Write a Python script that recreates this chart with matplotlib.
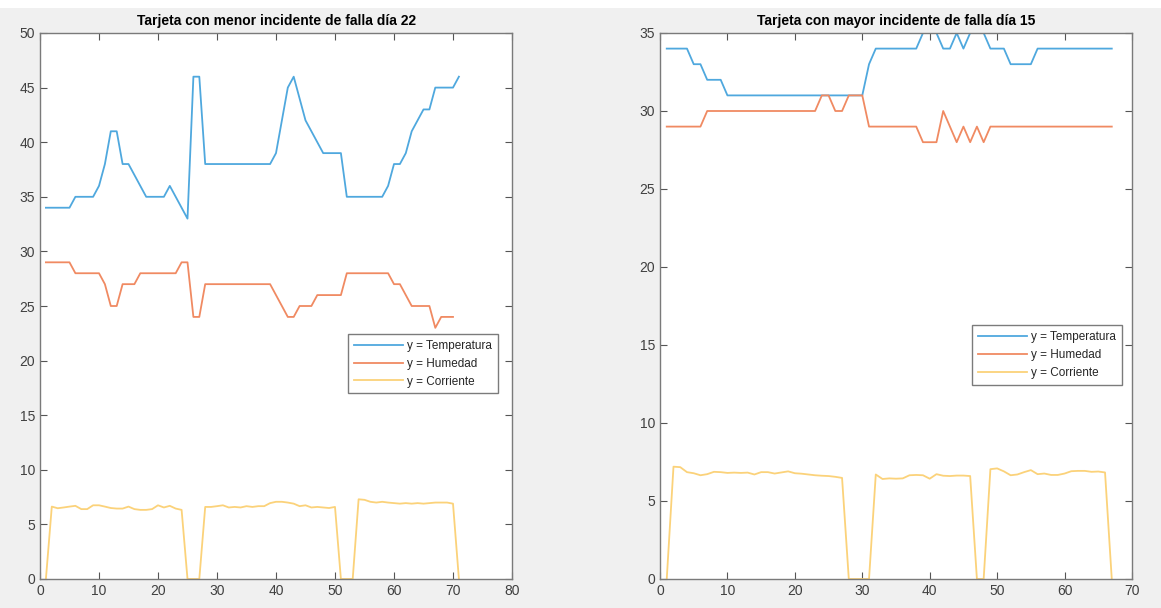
import matplotlib
matplotlib.use("Agg")
import matplotlib.pyplot as plt
import matplotlib.patches as mpatches
import numpy as np

# ---- datos ----
titulo_izq = 'Tarjeta con menor incidente de falla día 22'
titulo_der = 'Tarjeta con mayor incidente de falla día 15'
etiquetas = ['y = Temperatura', 'y = Humedad', 'y = Corriente']

temp_izq = [34, 34, 34, 34, 34, 35, 35, 35, 35, 36,
            38, 41, 41, 38, 38, 37, 36, 35, 35, 35,
            35, 36, 35, 34, 33, 46, 46, 38, 38, 38,
            38, 38, 38, 38, 38, 38, 38, 38, 38, 39,
            42, 45, 46, 44, 42, 41, 40, 39, 39, 39,
            39, 35, 35, 35, 35, 35, 35, 35, 36, 38,
            38, 39, 41, 42, 43, 43, 45, 45, 45, 45, 46]
hum_izq = [29, 29, 29, 29, 29, 28, 28, 28, 28, 28,
           27, 25, 25, 27, 27, 27, 28, 28, 28, 28,
           28, 28, 28, 29, 29, 24, 24, 27, 27, 27,
           27, 27, 27, 27, 27, 27, 27, 27, 27, 26,
           25, 24, 24, 25, 25, 25, 26, 26, 26, 26,
           26, 28, 28, 28, 28, 28, 28, 28, 28, 27,
           27, 26, 25, 25, 25, 25, 23, 24, 24, 24]
cur_izq = [0,
           6.63, 6.48, 6.55, 6.63, 6.7, 6.4, 6.4, 6.75, 6.75, 6.63, 6.5, 6.45,
           6.45, 6.63, 6.4, 6.33, 6.33, 6.4, 6.75, 6.55, 6.7, 6.45, 6.33,
           0, 0, 0,
           6.6, 6.6, 6.67, 6.75, 6.55, 6.6, 6.55, 6.67, 6.6, 6.67, 6.67, 6.95,
           7.07, 7.07, 7.0, 6.9, 6.67, 6.75, 6.55, 6.6, 6.55, 6.5, 6.6,
           0, 0, 0,
           7.3, 7.25, 7.07, 7.0, 7.07, 7.0, 6.95, 6.9, 6.95, 6.9, 6.95, 6.9,
           6.95, 7.0, 7.0, 7.0, 6.9,
           0]

temp_der = [34, 34, 34, 34, 33, 33, 32, 32, 32, 31,
            31, 31, 31, 31, 31, 31, 31, 31, 31, 31,
            31, 31, 31, 31, 31, 31, 31, 31, 31, 31,
            33, 34, 34, 34, 34, 34, 34, 34, 35, 35,
            35, 34, 34, 35, 34, 35, 35, 35, 34, 34,
            34, 33, 33, 33, 33, 34, 34, 34, 34, 34,
            34, 34, 34, 34, 34, 34, 34]
hum_der = [29, 29, 29, 29, 29, 29, 30, 30, 30, 30,
           30, 30, 30, 30, 30, 30, 30, 30, 30, 30,
           30, 30, 30, 31, 31, 30, 30, 31, 31, 31,
           29, 29, 29, 29, 29, 29, 29, 29, 28, 28,
           28, 30, 29, 28, 29, 28, 29, 28, 29, 29,
           29, 29, 29, 29, 29, 29, 29, 29, 29, 29,
           29, 29, 29, 29, 29, 29, 29]
cur_der = [0,
           7.2, 7.17, 6.85, 6.78, 6.65, 6.72, 6.87, 6.85, 6.8, 6.82, 6.8, 6.82,
           6.7, 6.85, 6.85, 6.76, 6.83, 6.9, 6.78, 6.75, 6.7, 6.65, 6.62, 6.6,
           6.55, 6.48,
           0, 0, 0, 0,
           6.7, 6.41, 6.45, 6.43, 6.45, 6.65, 6.67, 6.65, 6.43, 6.72, 6.62,
           6.6, 6.63, 6.63, 6.6,
           0, 0,
           7.04, 7.09, 6.9, 6.65, 6.7, 6.85, 6.98, 6.72, 6.76, 6.67, 6.67,
           6.76, 6.91, 6.93, 6.93, 6.87, 6.89, 6.83,
           0]

colores = ['#4fa8de', '#f08a62', '#fbd27a']
gris_fondo = '#f0f0f0'

plt.rcParams['font.family'] = ['Liberation Sans', 'DejaVu Sans']

fig = plt.figure(figsize=(11.61, 6.08), dpi=100, facecolor=gris_fondo)
# franja blanca superior de la captura
fig.patches.append(mpatches.Rectangle((0, 1 - 8 / 608), 1, 8 / 608,
                                      transform=fig.transFigure,
                                      facecolor='white', edgecolor='none', zorder=0))

ax1 = fig.add_axes([40 / 1161, 1 - 579 / 608, 472 / 1161, 546 / 608])
ax2 = fig.add_axes([660 / 1161, 1 - 579 / 608, 472 / 1161, 546 / 608])


def dibujar(ax, series, titulo, xlim, ylim, yticks, xticks, leg_pos):
    for s, c, lab in zip(series, colores, etiquetas):
        x = np.arange(1, len(s) + 1)
        ax.plot(x, s, color=c, lw=1.3, label=lab)
    ax.set_xlim(*xlim)
    ax.set_ylim(*ylim)
    ax.set_xticks(xticks)
    ax.set_yticks(yticks)
    ax.set_title(titulo, fontsize=10, fontweight='bold', pad=6)
    ax.tick_params(direction='in', top=True, right=True, length=5,
                   width=0.8, color='#555555', labelcolor='#404040',
                   labelsize=10)
    for sp in ax.spines.values():
        sp.set_color('#7a7a7a')
        sp.set_linewidth(1.0)
    leg = ax.legend(loc='upper left', bbox_to_anchor=leg_pos, fontsize=8.5,
                    frameon=True, fancybox=False, edgecolor='#5a5a5a',
                    handlelength=4.2, borderpad=0.5, labelspacing=0.5,
                    handletextpad=0.3, borderaxespad=0)
    leg.get_frame().set_linewidth(1.0)
    for t in leg.get_texts():
        t.set_color('#262626')


dibujar(ax1, [temp_izq, hum_izq, cur_izq], titulo_izq, (0, 80), (0, 50),
        np.arange(0, 51, 5), np.arange(0, 81, 10), (0.652, 0.449))
dibujar(ax2, [temp_der, hum_der, cur_der], titulo_der, (0, 70), (0, 35),
        np.arange(0, 36, 5), np.arange(0, 71, 10), (0.661, 0.465))

fig.savefig('out.png', dpi=100, facecolor=gris_fondo)
